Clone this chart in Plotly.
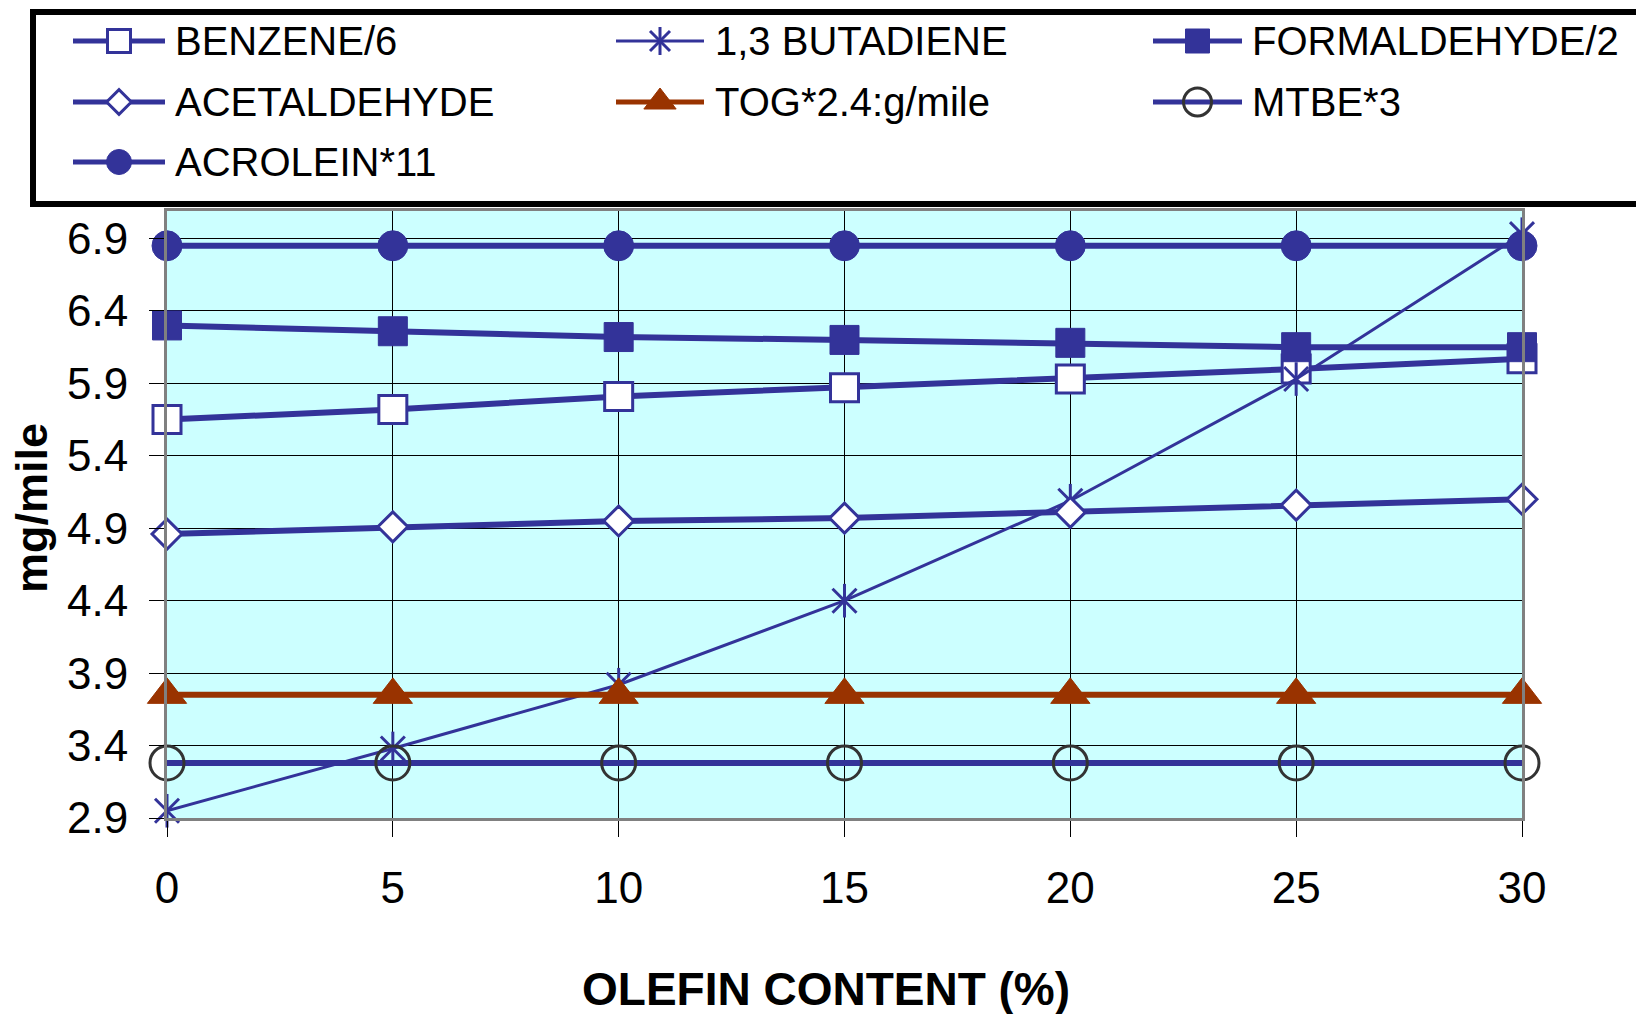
import plotly.graph_objects as go

# ---- data -------------------------------------------------------------
olefin = [0, 5, 10, 15, 20, 25, 30]
benzene = [5.65, 5.72, 5.81, 5.87, 5.93, 6.00, 6.07]
butadiene = [2.95, 3.38, 3.82, 4.40, 5.09, 5.93, 6.93]
formaldehyde = [6.30, 6.26, 6.22, 6.20, 6.18, 6.15, 6.15]
acetaldehyde = [4.86, 4.91, 4.95, 4.97, 5.01, 5.06, 5.10]
tog = [3.75, 3.75, 3.75, 3.75, 3.75, 3.75, 3.75]
mtbe = [3.28, 3.28, 3.28, 3.28, 3.28, 3.28, 3.28]
acrolein = [6.85, 6.85, 6.85, 6.85, 6.85, 6.85, 6.85]

y_ticks = [2.9, 3.4, 3.9, 4.4, 4.9, 5.4, 5.9, 6.4, 6.9]
x_ticks = [0, 5, 10, 15, 20, 25, 30]

labels = ["BENZENE/6", "1,3 BUTADIENE", "FORMALDEHYDE/2",
          "ACETALDEHYDE", "TOG*2.4:g/mile", "MTBE*3", "ACROLEIN*11"]

# ---- styling ----------------------------------------------------------
W, H = 1636, 1014
NAVY = "#333399"
BROWN = "#993300"
CYAN = "#CCFFFF"
FONT = "Arial, Liberation Sans, sans-serif"

# per-series: (y-values, line width, line colour, list of marker specs)
series = [
    (benzene, 6, NAVY, [dict(symbol="square", size=28, color="white",
                             line=dict(color=NAVY, width=3))]),
    (butadiene, 3, NAVY, [dict(symbol="x-thin-open", size=24, color=NAVY,
                               line=dict(color=NAVY, width=3)),
                          dict(symbol="line-ns-open", size=24, color=NAVY,
                               line=dict(color=NAVY, width=3))]),
    (formaldehyde, 6, NAVY, [dict(symbol="square", size=29, color=NAVY,
                                  line=dict(color=NAVY, width=1))]),
    (acetaldehyde, 6, NAVY, [dict(symbol="diamond", size=23, color="white",
                                  line=dict(color=NAVY, width=3))]),
    (tog, 6, BROWN, [dict(symbol="triangle-up", size=34, color=BROWN,
                          line=dict(color=BROWN, width=1))]),
    (mtbe, 6, NAVY, [dict(symbol="circle-open", size=34, color="#333333",
                          line=dict(color="#333333", width=3))]),
    (acrolein, 6, NAVY, [dict(symbol="circle", size=30, color=NAVY,
                              line=dict(color=NAVY, width=1))]),
]

fig = go.Figure()

for (vals, lw, lc, markers), name in zip(series, labels):
    fig.add_trace(go.Scatter(x=olefin, y=vals, mode="lines",
                             line=dict(color=lc, width=lw),
                             name=name, showlegend=False, cliponaxis=False,
                             xaxis="x", yaxis="y"))
    for m in markers:
        fig.add_trace(go.Scatter(x=olefin, y=vals, mode="markers", marker=m,
                                 name=name, showlegend=False, cliponaxis=False,
                                 xaxis="x", yaxis="y"))

# ---- hand-built legend (pixel coordinate axes over the top band) ----
col_line = [(73, 165), (616, 704), (1153, 1242)]
col_text = [173, 713, 1250]
row_y = [41, 102, 162]
legend_slots = [(0, 0), (1, 0), (2, 0), (0, 1), (1, 1), (2, 1), (0, 2)]
scale = 0.82

for (vals, lw, lc, markers), name, (c, r) in zip(series, labels, legend_slots):
    x0, x1 = col_line[c]
    yy = row_y[r]
    fig.add_trace(go.Scatter(x=[x0, x1], y=[yy, yy], mode="lines",
                             line=dict(color=lc, width=min(lw, 5)),
                             showlegend=False, hoverinfo="skip",
                             xaxis="x2", yaxis="y2"))
    for m in markers:
        mm = dict(m)
        mm["size"] = round(m["size"] * scale)
        fig.add_trace(go.Scatter(x=[(x0 + x1) / 2], y=[yy], mode="markers",
                                 marker=mm, showlegend=False, hoverinfo="skip",
                                 xaxis="x2", yaxis="y2"))
    fig.add_annotation(x=col_text[c], y=yy, xref="x2", yref="y2", text=name,
                       showarrow=False, xanchor="left", yanchor="middle",
                       font=dict(family=FONT, size=40, color="black"))

# legend frame
fig.add_shape(type="rect", xref="paper", yref="paper",
              x0=33 / W, x1=1.02, y0=1 - 204 / H, y1=1 - 12 / H,
              line=dict(color="black", width=6), fillcolor="white",
              layer="below")

# cyan plotting area (only for the main axes)
fig.add_shape(type="rect", xref="x domain", yref="y domain",
              x0=0, x1=1, y0=0, y1=1, line=dict(width=0),
              fillcolor=CYAN, layer="below")

# axis titles
fig.add_annotation(x=31 / W, y=1 - 508 / H, xref="paper", yref="paper",
                   text="<b>mg/mile</b>", textangle=-90, showarrow=False,
                   xanchor="center", yanchor="middle",
                   font=dict(family=FONT, size=45, color="black"))
fig.add_annotation(x=826 / W, y=1 - 989 / H, xref="paper", yref="paper",
                   text="<b>OLEFIN CONTENT (%)</b>", showarrow=False,
                   xanchor="center", yanchor="middle",
                   font=dict(family=FONT, size=46, color="black"))

fig.update_layout(
    width=W, height=H,
    margin=dict(l=0, r=0, t=0, b=0),
    paper_bgcolor="white",
    plot_bgcolor="rgba(0,0,0,0)",
    showlegend=False,
    font=dict(family=FONT, color="black"),
    xaxis=dict(domain=[167 / W, 1522 / W], range=[0, 30],
               tickvals=x_ticks, ticktext=[str(v) for v in x_ticks],
               showgrid=True, gridcolor="#000000", gridwidth=1,
               ticks="outside", ticklen=16, tickcolor="#000000", tickwidth=1,
               showline=True, linecolor="#808080", linewidth=3, mirror=True,
               zeroline=False, tickfont=dict(family=FONT, size=44),
               ticklabelstandoff=13, automargin=False, anchor="y"),
    yaxis=dict(domain=[1 - 818 / H, 1 - 211 / H], range=[2.9, 7.09],
               tickvals=y_ticks, ticktext=[f"{v:.1f}" for v in y_ticks],
               showgrid=True, gridcolor="#000000", gridwidth=1,
               ticks="outside", ticklen=15, tickcolor="#000000", tickwidth=1,
               showline=True, linecolor="#808080", linewidth=3, mirror=True,
               zeroline=False, tickfont=dict(family=FONT, size=44),
               ticklabelstandoff=12, automargin=False, anchor="x"),
    xaxis2=dict(domain=[0, 1], range=[0, W], visible=False, anchor="y2",
                fixedrange=True),
    yaxis2=dict(domain=[1 - 210 / H, 1], range=[210, 0], visible=False,
                anchor="x2", fixedrange=True),
)

fig.write_html("out.html")
